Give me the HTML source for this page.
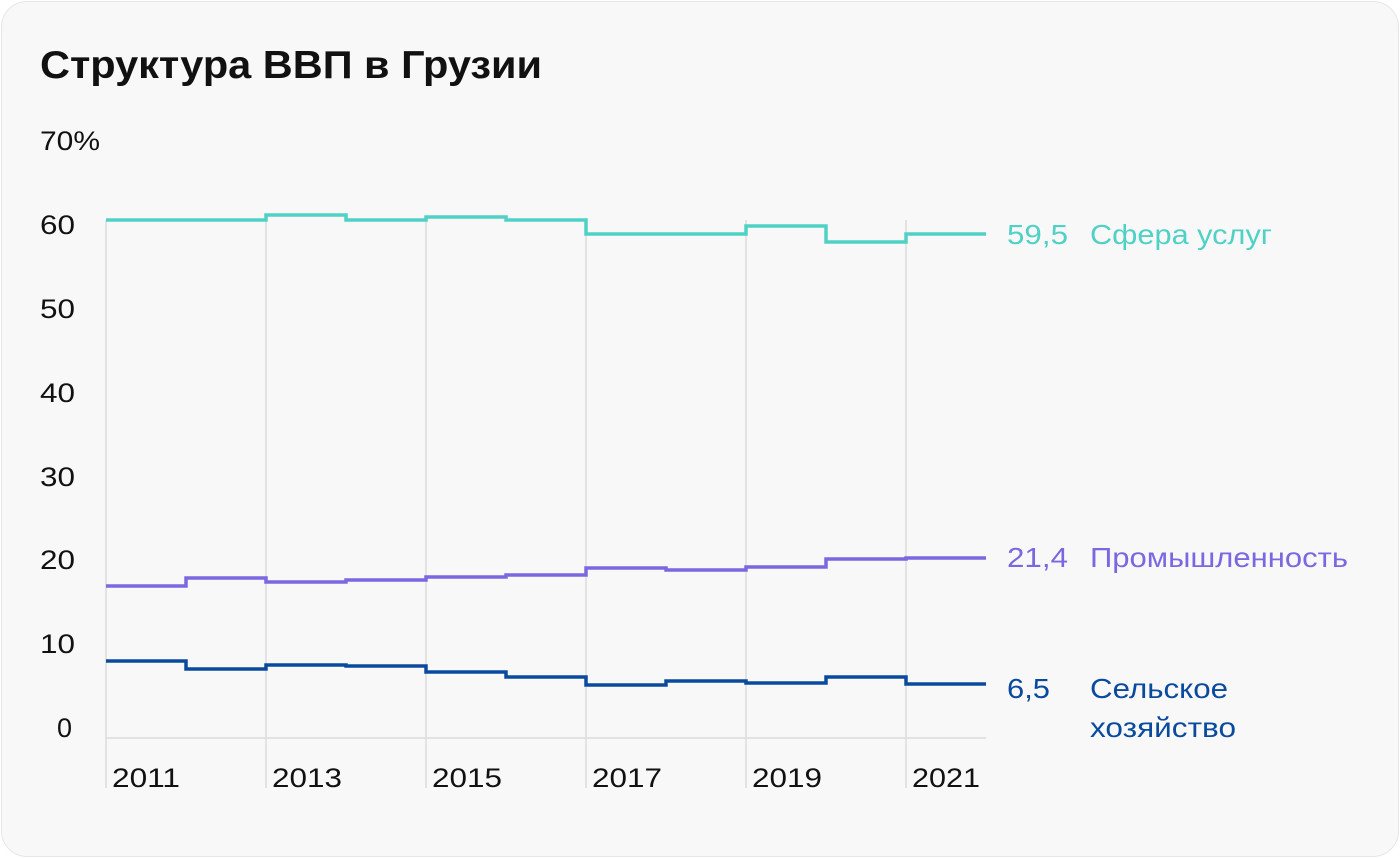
<!DOCTYPE html>
<html><head><meta charset="utf-8"><style>
html,body{margin:0;padding:0;background:#fff;}
body{width:1400px;height:858px;overflow:hidden;font-family:"Liberation Sans",sans-serif;}
.card{position:absolute;left:1px;top:1px;width:1396px;height:854px;border:1px solid #e6e6e6;border-radius:26px;background:#f8f8f8;}
</style></head><body>
<div class="card"></div>
<svg width="1400" height="858" style="position:absolute;left:0;top:0" font-family="Liberation Sans, sans-serif">
<text x="40" y="78" font-size="39" font-weight="bold" fill="#111" textLength="502" lengthAdjust="spacingAndGlyphs">Структура ВВП в Грузии</text>
<g font-size="27" fill="#111">
<text x="40" y="150" textLength="60" lengthAdjust="spacingAndGlyphs">70%</text>
<text x="40" y="234" textLength="35" lengthAdjust="spacingAndGlyphs">60</text>
<text x="40" y="318" textLength="35" lengthAdjust="spacingAndGlyphs">50</text>
<text x="40" y="402" textLength="35" lengthAdjust="spacingAndGlyphs">40</text>
<text x="40" y="486" textLength="35" lengthAdjust="spacingAndGlyphs">30</text>
<text x="40" y="569" textLength="35" lengthAdjust="spacingAndGlyphs">20</text>
<text x="40" y="653" textLength="35" lengthAdjust="spacingAndGlyphs">10</text>
<text x="57" y="737">0</text>
</g>
<g stroke="#dcdcdc" stroke-width="1.5">
<line x1="106" y1="220" x2="106" y2="788"/><line x1="266" y1="220" x2="266" y2="788"/>
<line x1="426" y1="220" x2="426" y2="788"/><line x1="586" y1="220" x2="586" y2="788"/>
<line x1="746" y1="220" x2="746" y2="788"/><line x1="906" y1="220" x2="906" y2="788"/>
<line x1="106" y1="738" x2="986" y2="738"/>
</g>
<g font-size="27" fill="#111">
<text x="112" y="787" textLength="68" lengthAdjust="spacingAndGlyphs">2011</text><text x="272" y="787" textLength="70" lengthAdjust="spacingAndGlyphs">2013</text><text x="432" y="787" textLength="70" lengthAdjust="spacingAndGlyphs">2015</text>
<text x="592" y="787" textLength="70" lengthAdjust="spacingAndGlyphs">2017</text><text x="752" y="787" textLength="70" lengthAdjust="spacingAndGlyphs">2019</text><text x="912" y="787" textLength="68" lengthAdjust="spacingAndGlyphs">2021</text>
</g>
<g fill="none" stroke-width="3.5">
<path stroke="#4fd1c5" d="M106 220H186V220H266V215H346V220H426V217H506V220H586V234H666V234H746V226H826V242H906V234H986"/>
<path stroke="#7b68e0" d="M106 586H186V578H266V582H346V580H426V577H506V575H586V568H666V570H746V567H826V559H906V558H986"/>
<path stroke="#0a4a9e" d="M106 661H186V669H266V665H346V666H426V672H506V677H586V685H666V681H746V683H826V677H906V684H986"/>
</g>
<g font-size="28">
<text x="1007" y="244" fill="#4fd1c5" textLength="61" lengthAdjust="spacingAndGlyphs">59,5</text><text x="1090" y="244" fill="#4fd1c5" textLength="182" lengthAdjust="spacingAndGlyphs">Сфера услуг</text>
<text x="1007" y="567" fill="#7b68e0" textLength="61" lengthAdjust="spacingAndGlyphs">21,4</text><text x="1090" y="567" fill="#7b68e0" textLength="258" lengthAdjust="spacingAndGlyphs">Промышленность</text>
<text x="1007" y="698" fill="#0a4a9e" textLength="43" lengthAdjust="spacingAndGlyphs">6,5</text><text x="1090" y="698" fill="#0a4a9e" textLength="138" lengthAdjust="spacingAndGlyphs">Сельское</text>
<text x="1090" y="737" fill="#0a4a9e" textLength="146" lengthAdjust="spacingAndGlyphs">хозяйство</text>
</g>
</svg>
</body></html>
